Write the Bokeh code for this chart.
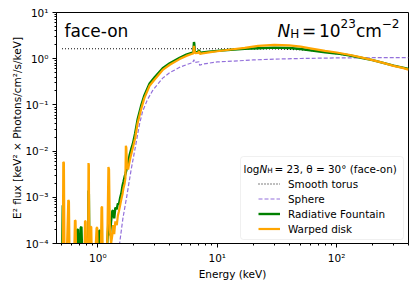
import math
from bokeh.plotting import figure
from bokeh.models import (Range1d, FixedTicker, CustomJSTickFormatter, Legend,
                          LegendItem, Label, BoxAnnotation)
from bokeh.embed import file_html
from bokeh.resources import INLINE

# ---------------- data ----------------
# Smooth torus (black dotted)
torus_energy = [0.5, 20.0, 30.0, 50.0, 80.0, 130.0, 200.0, 300.0, 400.0]
torus_flux = [1.64, 1.64, 1.63, 1.56, 1.40, 1.15, 0.92, 0.72, 0.60]

# Sphere (purple dashed)
sphere_energy = [1.48, 1.52, 1.62, 1.74, 1.90, 2.10, 2.23, 2.37, 2.60, 2.88,
                 3.20, 3.49, 4.00, 4.84, 5.50, 6.20, 6.38, 6.45, 7.05, 7.12,
                 7.50, 8.50, 10.0, 15.0, 20.0, 30.0, 50.0, 100.0, 200.0, 400.0]
sphere_flux = [5e-5, 1.0e-4, 3.5e-4, 1.0e-3, 4.0e-3, 1.6e-2, 3.8e-2, 7.3e-2, 0.13, 0.206,
               0.29, 0.38, 0.50, 0.65, 0.74, 0.82, 0.95, 0.83, 0.86, 0.72,
               0.76, 0.80, 0.85, 0.90, 0.94, 0.98, 1.01, 1.04, 1.05, 1.05]

# Radiative Fountain (green) and Warped disk (orange) share one energy grid
energy = [0.500, 0.508, 0.513, 0.519, 0.526, 0.545, 0.565, 0.572, 0.580, 0.630,
          0.642, 0.650, 0.660, 0.672, 0.682, 0.692, 0.705, 0.718, 0.728, 0.740,
          0.770, 0.780, 0.790, 0.800, 0.828, 0.834, 0.840, 0.848, 0.870, 0.880,
          0.892, 0.940, 0.975, 0.988, 1.000, 1.025, 1.040, 1.055, 1.072, 1.085,
          1.100, 1.150, 1.200, 1.225, 1.240, 1.260, 1.290, 1.320, 1.340, 1.370,
          1.400, 1.440, 1.470, 1.500, 1.540, 1.570, 1.610, 1.640, 1.675, 1.700,
          1.715, 1.730, 1.750, 1.790, 1.844, 1.900, 1.965, 2.050, 2.150, 2.300,
          2.450, 2.710, 3.000, 3.490, 4.000, 4.840, 5.500, 6.000, 6.300, 6.380,
          6.420, 6.500, 6.900, 7.050, 7.150, 7.500, 8.500, 10.00, 13.00, 17.00,
          22.00, 30.00, 40.00, 50.00, 60.00, 80.00, 100.0, 130.0, 160.0, 200.0,
          250.0, 300.0, 350.0, 400.0]

fountain = [3e-5, 6.7e-4, 3e-5, 3e-5, 3e-5, 3e-5, 3e-5, 3e-5, 3e-5, 3e-5,
            3e-5, 3e-5, 3e-5, 2.0e-4, 2.0e-4, 5e-5, 3e-5, 2.2e-4, 2.3e-4, 5e-5,
            3e-5, 3e-5, 3e-5, 3e-5, 1.0e-4, 1.4e-3, 1.2e-3, 1.0e-4, 3e-5, 3e-5,
            3e-5, 3e-5, 3e-5, 3e-5, 3e-5, 1.9e-4, 1.9e-4, 3e-5, 3e-5, 3e-5,
            1.0e-4, 3e-5, 1.1e-4, 3.0e-4, 2.5e-4, 1.5e-4, 3.0e-4, 5.0e-4, 5.2e-4, 3.5e-4,
            6.0e-4, 5.5e-4, 7.4e-4, 7.0e-4, 1.0e-3, 1.2e-3, 1.8e-3, 2.2e-3, 2.8e-3, 3.2e-3,
            3.5e-3, 3.8e-3, 4.3e-3, 5.5e-3, 8.2e-3, 1.1e-2, 1.45e-2, 2.4e-2, 4.8e-2, 9.5e-2,
            0.16, 0.29, 0.40, 0.62, 0.80, 1.05, 1.22, 1.32, 1.37, 2.30,
            2.10, 1.38, 1.40, 1.55, 1.33, 1.36, 1.42, 1.48, 1.56, 1.63,
            1.68, 1.74, 1.70, 1.62, 1.52, 1.38, 1.30, 1.17, 1.05, 0.93,
            0.80, 0.71, 0.65, 0.60]

warped = [3e-5, 3e-5, 5.8e-3, 5.6e-3, 3e-5, 3e-5, 8.7e-4, 8.2e-4, 3e-5, 3e-5,
          3.2e-4, 3.1e-4, 3e-5, 3e-5, 3e-5, 3e-5, 3e-5, 3e-5, 3e-5, 3e-5,
          3e-5, 3.1e-4, 3.0e-4, 3e-5, 1.0e-4, 5.5e-3, 5.0e-3, 3e-5, 2.3e-4, 2.3e-4,
          3e-5, 3e-5, 2.2e-4, 2.2e-4, 3e-5, 3e-5, 3e-5, 3e-5, 6.0e-4, 6.3e-4,
          3e-5, 3e-5, 1.2e-4, 4.5e-3, 4.0e-3, 2.0e-4, 1.0e-4, 1.5e-4, 2.5e-4, 1.6e-4,
          3.0e-4, 2.5e-4, 4.0e-4, 5.0e-4, 7.0e-4, 9.0e-4, 1.2e-3, 1.6e-3, 2.0e-3, 2.6e-3,
          1.3e-2, 1.2e-2, 5.0e-3, 4.0e-3, 6.0e-3, 8.5e-3, 1.2e-2, 1.9e-2, 4.0e-2, 8.0e-2,
          0.14, 0.26, 0.36, 0.57, 0.74, 0.98, 1.15, 1.25, 1.30, 1.90,
          1.70, 1.32, 1.34, 1.45, 1.27, 1.30, 1.37, 1.45, 1.58, 1.72,
          1.90, 2.00, 1.95, 1.82, 1.68, 1.48, 1.36, 1.20, 1.07, 0.93,
          0.80, 0.70, 0.64, 0.58]

series_names = ["Smooth torus", "Sphere", "Radiative Fountain", "Warped disk"]
x_major = [1, 10, 100]
y_major = [1e-4, 1e-3, 1e-2, 1e-1, 1, 10]

# ---------------- figure ----------------
FONT = "DejaVu Sans"
W, H = 416, 285
FL, FR, FT, FB = 56, 408, 12, 243          # plot-frame edges in page pixels
X0, X1 = 0.45, 400.0
Y0, Y1 = 1e-4, 10.0

p = figure(width=W, height=H, x_axis_type="log", y_axis_type="log",
           x_range=Range1d(X0, X1), y_range=Range1d(Y0, Y1),
           output_backend="svg", toolbar_location=None,
           min_border_left=FL, min_border_right=W - FR,
           min_border_top=FT, min_border_bottom=H - FB)
p.grid.visible = False
p.background_fill_color = "white"
p.border_fill_color = "white"
p.outline_line_color = "black"
p.outline_line_width = 1


def px2x(px):
    return 10 ** (math.log10(X0) + (px - FL) / (FR - FL) * (math.log10(X1) - math.log10(X0)))


def py2y(py):
    return 10 ** (math.log10(Y1) - (py - FT) / (FB - FT) * (math.log10(Y1) - math.log10(Y0)))


r_torus = p.line(torus_energy, torus_flux, line_color="black", line_width=1.2,
                 line_dash="1 2")
r_sphere = p.line(sphere_energy, sphere_flux, line_color="#9370DB", line_width=1.2,
                  line_dash="4 2")
r_fount = p.line(energy, fountain, line_color="#008000", line_width=2.4)
r_warp = p.line(energy, warped, line_color="#FFA500", line_width=2.2)

# ---------------- axes ----------------
x_minor = [m * 10 ** k for k in (-1, 0, 1, 2) for m in range(2, 10)
           if X0 <= m * 10 ** k <= X1]
y_minor = [m * 10 ** k for k in (-4, -3, -2, -1, 0) for m in range(2, 10)]
p.xaxis.ticker = FixedTicker(ticks=x_major, minor_ticks=x_minor)
p.yaxis.ticker = FixedTicker(ticks=y_major, minor_ticks=y_minor)
fmt_code = """
const sup = {"-": "\u207b", "0": "\u2070", "1": "\u00b9", "2": "\u00b2", "3": "\u00b3",
             "4": "\u2074", "5": "\u2075", "6": "\u2076", "7": "\u2077", "8": "\u2078", "9": "\u2079"};
const e = Math.round(Math.log10(tick));
return "10" + String(e).split("").map(c => sup[c]).join("");
"""
p.xaxis.formatter = CustomJSTickFormatter(code=fmt_code)
p.yaxis.formatter = CustomJSTickFormatter(code=fmt_code)

p.xaxis.axis_label = "Energy (keV)"
p.yaxis.axis_label = "E\u00b2 flux [keV\u00b2 \u00d7 Photons/cm\u00b2/s/keV]"
for ax in (p.xaxis, p.yaxis):
    ax.axis_label_text_font = FONT
    ax.axis_label_text_font_size = "10.5px"
    ax.axis_label_text_font_style = "normal"
    ax.axis_label_text_color = "black"
    ax.major_label_text_font = FONT
    ax.major_label_text_font_size = "10.5px"
    ax.major_label_text_color = "black"
    ax.axis_line_color = "black"
    ax.major_tick_line_color = "black"
    ax.minor_tick_line_color = "black"
    ax.major_tick_out = 4
    ax.major_tick_in = 0
    ax.minor_tick_out = 2
    ax.minor_tick_in = 0
p.xaxis.major_label_standoff = 4
p.xaxis.axis_label_standoff = 1
p.yaxis.major_label_standoff = 4
p.yaxis.axis_label_standoff = -1

# ---------------- legend ----------------
box = BoxAnnotation(left=px2x(240), right=px2x(403), top=py2y(156), bottom=py2y(239),
                    fill_color="white", fill_alpha=0.8, line_color="#cccccc",
                    line_width=1, border_radius=3)
p.add_layout(box)

legend = Legend(items=[LegendItem(label=series_names[0], renderers=[r_torus]),
                       LegendItem(label=series_names[1], renderers=[r_sphere]),
                       LegendItem(label=series_names[2], renderers=[r_fount]),
                       LegendItem(label=series_names[3], renderers=[r_warp])],
                location=(258 - FL, FB - 236), padding=0, spacing=0,
                label_height=15, glyph_height=15, glyph_width=22, label_standoff=8,
                label_text_font=FONT, label_text_font_size="10.4px",
                label_text_color="black",
                background_fill_alpha=0, border_line_alpha=0, margin=0)
p.add_layout(legend)


def add_text(text, px, py, size, dx=0.0, dy=0.0, style="normal", align="left",
             baseline="alphabetic"):
    p.add_layout(Label(x=px2x(px), y=py2y(py), x_offset=dx, y_offset=dy, text=text,
                       text_font=FONT, text_font_size=f"{size}px",
                       text_font_style=style, text_color="black",
                       text_baseline=baseline, text_align=align))


# legend title: log N_H = 23, theta = 30 deg (face-on)
add_text("log", 243, 168, 10.4)
add_text("N", 243, 168, 10.4, dx=15.9, style="italic")
add_text("H", 243, 168, 7.3, dx=23.7, dy=-2)
add_text("= 23, \u03b8 = 30\u00b0  (face-on)", 243, 168, 10.4, dx=31)

# panel annotations
add_text("face-on", 64, 30, 17)
add_text("N", 277, 30, 17, style="italic")
add_text("H", 277, 30, 12, dx=12.7, dy=-3.5)
add_text("=", 277, 30, 17, dx=24.5)
add_text("10", 277, 30, 17, dx=41.5)
add_text("23", 277, 30, 12, dx=63.1, dy=7)
add_text("cm", 277, 30, 17, dx=78.4)
add_text("\u22122", 277, 30, 12, dx=104.3, dy=7)

open("out.html", "w").write(file_html(p, INLINE))
